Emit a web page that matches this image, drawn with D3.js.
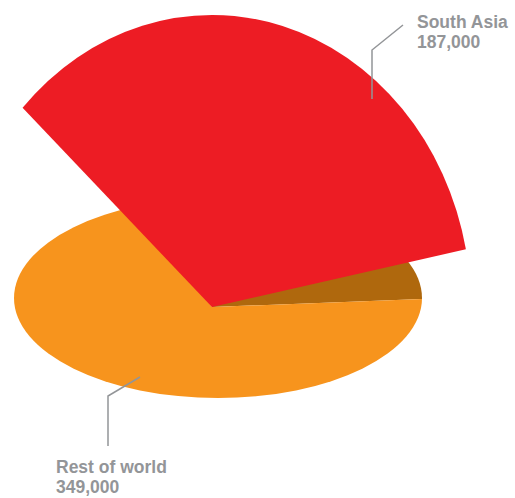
<!DOCTYPE html>
<html>
<head>
<meta charset="utf-8">
<script src="https://cdn.jsdelivr.net/npm/d3@7"></script>
<style>
  html, body { margin: 0; padding: 0; background: #fff; }
  svg { display: block; }
  text { font-family: "Liberation Sans", Arial, sans-serif; font-weight: bold; fill: #939598; }
</style>
</head>
<body>
<svg id="chart" width="515" height="498"></svg>
<script>
// ---- data ----
const categories = ["South Asia", "Rest of world"];
const values = [187000, 349000];
const valueLabels = ["187,000", "349,000"];
const colors = ["#ED1C24", "#F7941D"];
const holeColor = "#AF680D";

const W = 515, H = 498;
const svg = d3.select("#chart");
const deg = Math.PI / 180;

// layout
const apex = [212, 307];            // pie centre (tip of lifted slice)
const disc = {cx: 218, cy: 298, rx: 204, ry: 100}; // tilted pie outline
const liftRx = 259, liftRy = 292;   // lifted slice shape

// base pie (tilted), South Asia slot shown as a hole
const basePie = d3.pie().sort(null).value(d => d)
  .startAngle(-37.8 * deg).endAngle(322.2 * deg);
const baseArcs = basePie(values);

// lifted slice pie
const liftPie = d3.pie().sort(null).value(d => d)
  .startAngle(-47.0 * deg).endAngle(313.0 * deg);
const liftArcs = liftPie(values);

const defs = svg.append("defs");
defs.append("clipPath").attr("id", "discClip")
  .append("ellipse")
  .attr("cx", disc.cx).attr("cy", disc.cy)
  .attr("rx", disc.rx).attr("ry", disc.ry);

const bigArc = d3.arc().innerRadius(0).outerRadius(600);
const baseG = svg.append("g").attr("clip-path", "url(#discClip)")
  .append("g")
  .attr("transform", `translate(${apex[0]},${apex[1]})`);
baseG.selectAll("path").data(baseArcs).enter().append("path")
  .attr("d", bigArc)
  .attr("fill", (d, i) => i === 0 ? holeColor : colors[1]);

// lifted South Asia slice
const liftArc = d3.arc().innerRadius(0).outerRadius(liftRy);
svg.append("g")
  .attr("transform", `translate(${apex[0]},${apex[1]}) scale(${liftRx / liftRy},1)`)
  .append("path")
  .datum(liftArcs[0])
  .attr("d", liftArc)
  .attr("fill", colors[0]);

// leader lines
const line = d3.line();
const leaders = [
  [[403, 25], [372, 50], [372, 99]],
  [[140, 377], [108, 396], [108, 446]]
];
svg.selectAll("path.leader").data(leaders).enter().append("path")
  .attr("class", "leader")
  .attr("d", line)
  .attr("fill", "none")
  .attr("stroke", "#939598")
  .attr("stroke-width", 1.5);

// labels
const labelPos = [[417, 28], [56, 473]];
categories.forEach((c, i) => {
  const t = svg.append("text")
    .attr("x", labelPos[i][0]).attr("y", labelPos[i][1])
    .style("font-size", "17.5px");
  t.append("tspan").attr("x", labelPos[i][0]).text(c);
  t.append("tspan").attr("x", labelPos[i][0]).attr("dy", 20).text(valueLabels[i]);
});
</script>
</body>
</html>
